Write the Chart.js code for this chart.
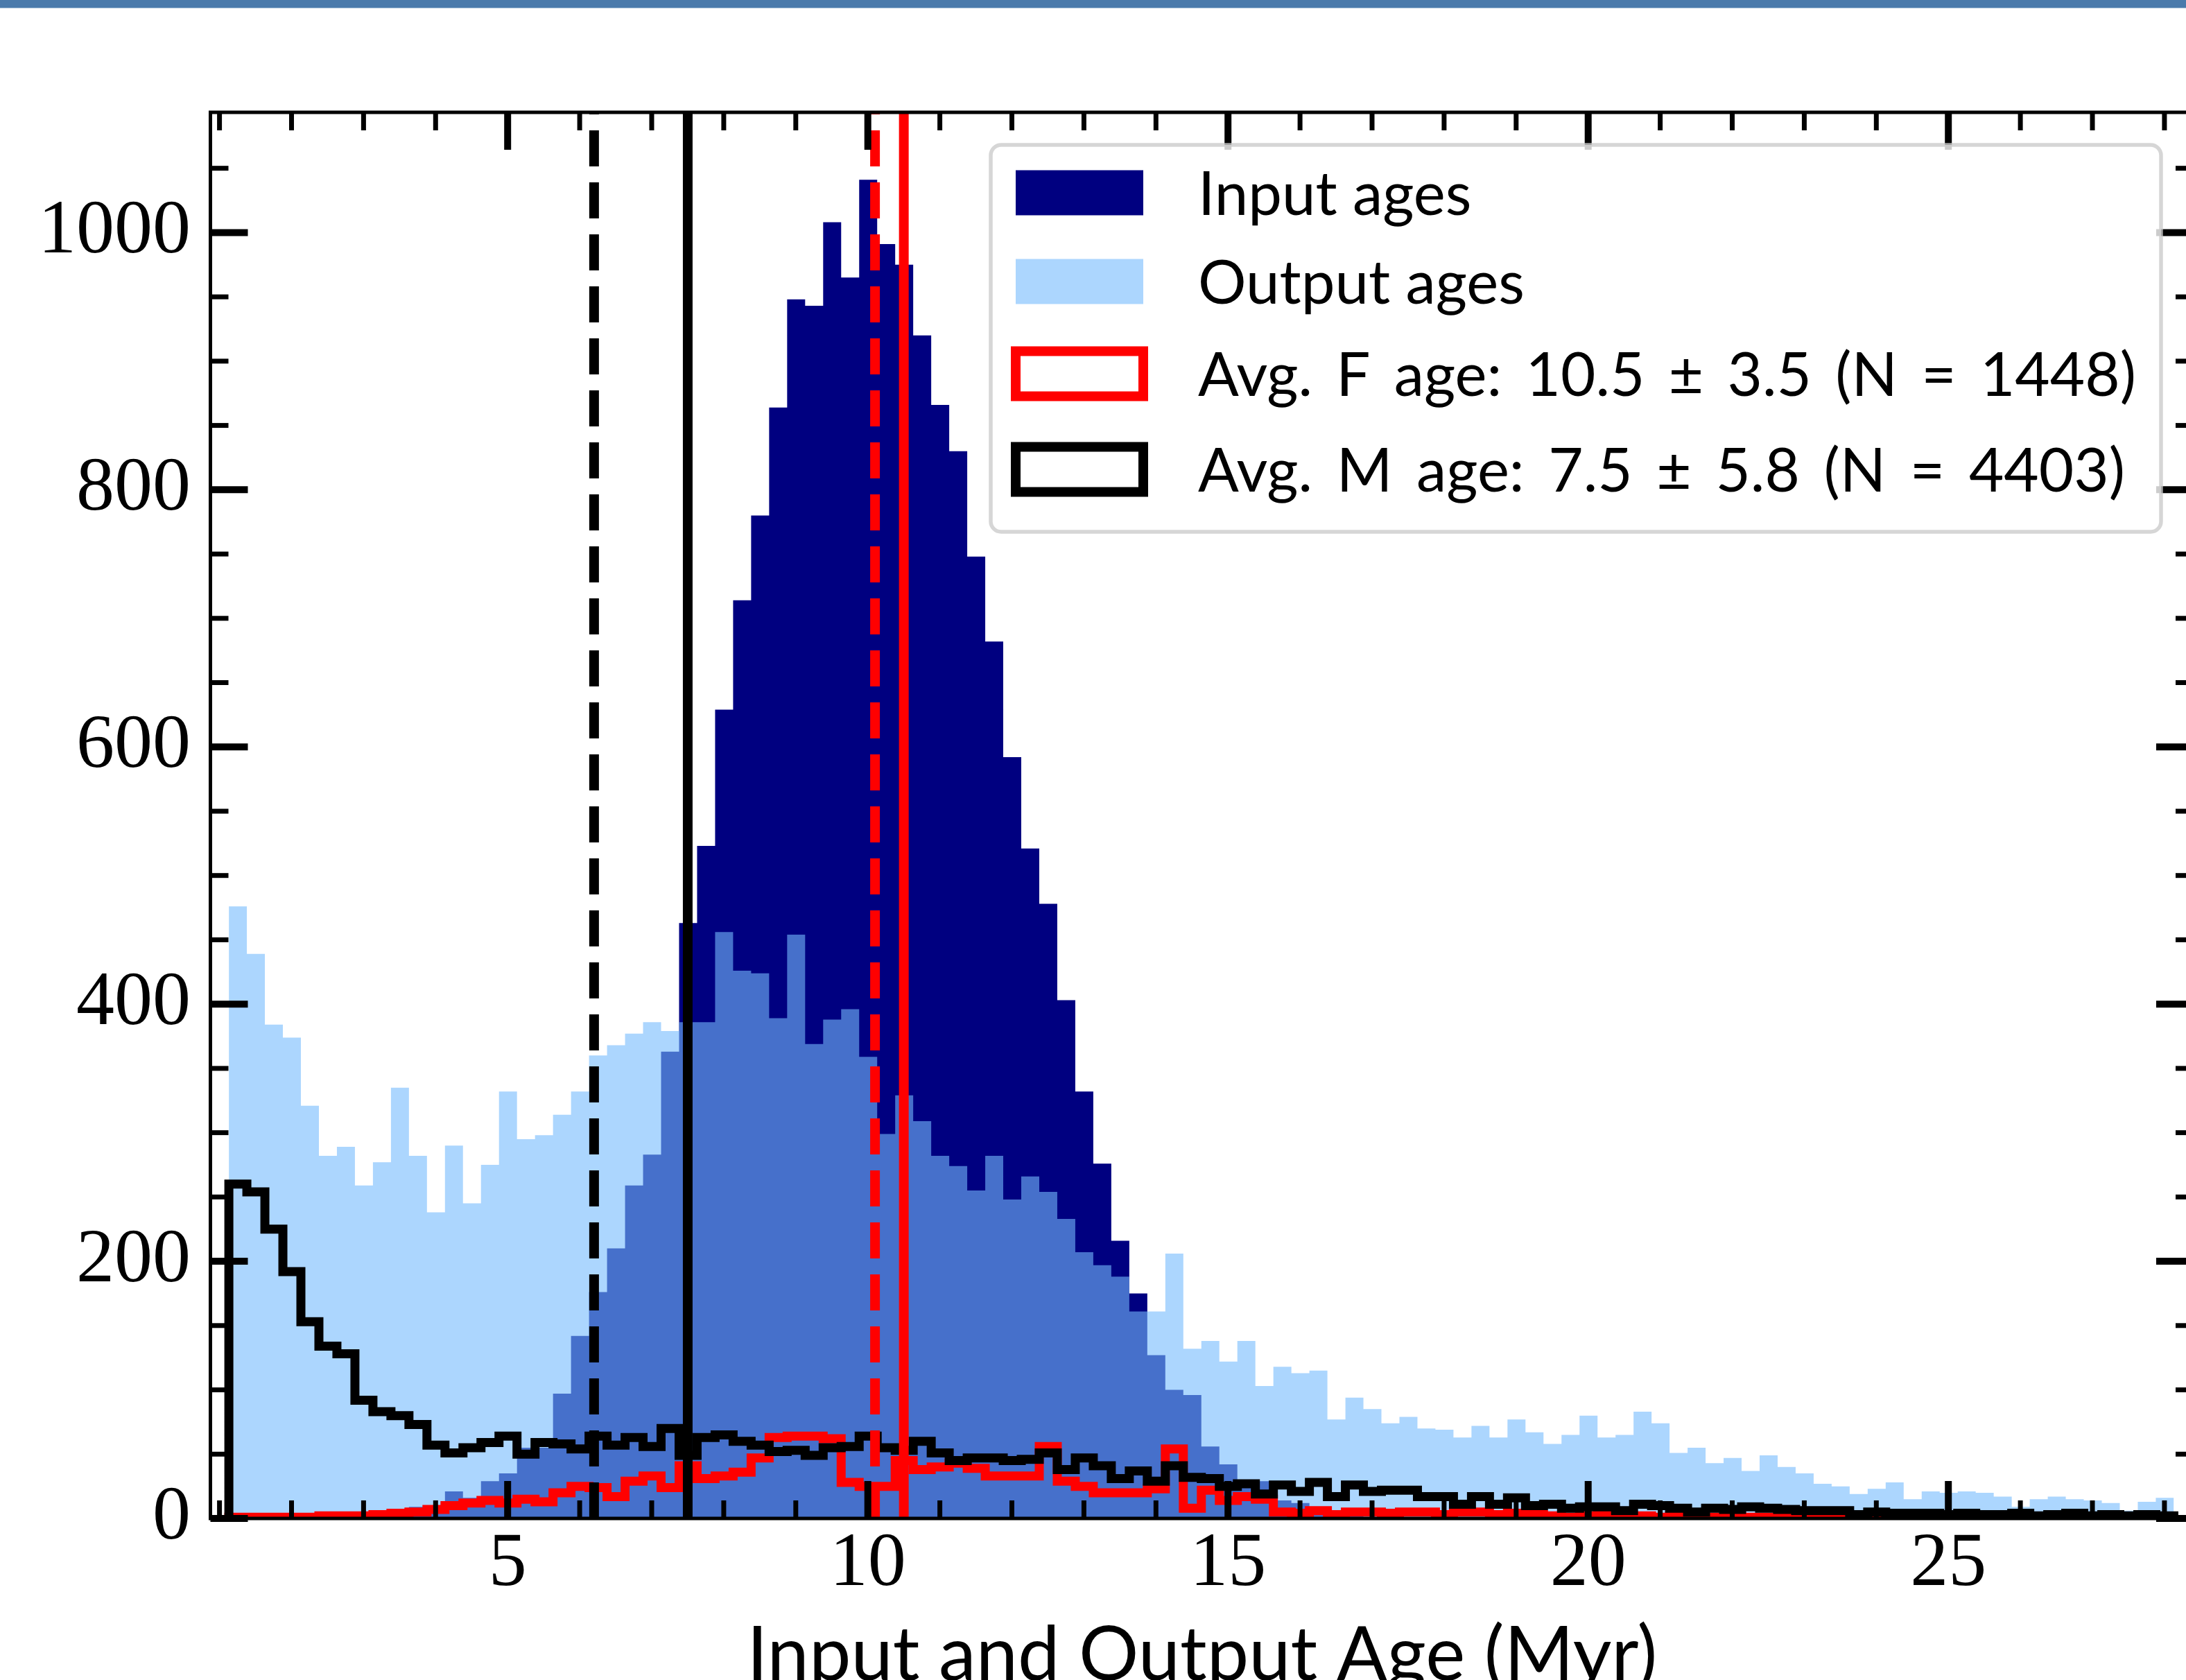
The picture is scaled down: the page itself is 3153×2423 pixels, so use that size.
<!DOCTYPE html>
<html>
<head>
<meta charset="utf-8">
<script src="https://cdn.jsdelivr.net/npm/chart.js@4.4.1/dist/chart.umd.min.js"></script>
<style>
  html, body { margin: 0; padding: 0; background: #fff; overflow: hidden; width: 3153px; height: 2423px; }
  #banner { position: absolute; left: 0; top: 0; width: 100%; height: 11px; background: #4a7aab; border-bottom: 1px solid #9db8d4; z-index: 2; }
  #wrap { position: absolute; left: 0; top: 0; width: 3200px; height: 2500px; }
</style>
</head>
<body>
<div id="banner"></div>
<div id="wrap"><canvas id="c" width="3200" height="2500"></canvas></div>
<script>
// ---------------- data ----------------
const binStart = 1.13;   // first bin edge (Myr)
const binWidth = 0.25;   // bin width (Myr)

const inputAges = [
  0,0,0,0,0,0,1,2,4,7,
  9,10,21,16,29,35,55,55,97,142,
  176,210,259,283,363,463,523,629,714,780,
  864,948,943,1008,965,1041,991,975,920,866,
  830,748,682,592,521,478,403,332,276,216,
  175,127,100,96,56,42,30,29,14,12,
  8,3,2,1,0,0,0,0,0,0,
  0,0,0,0,0,0,0,0,0,0,
  0,0,0,0,0,0,0,0,0,0,
  0,0,0,0,0,0,0,0,0,0,
  0,0,0,0,0,0,0,0
];
const outputAges = [
  476,439,384,374,321,282,289,259,277,335,
  282,238,290,245,275,332,295,298,314,332,
  360,368,377,386,379,386,386,456,426,424,
  389,454,369,388,396,359,299,329,309,282,
  274,255,282,248,266,254,233,207,197,188,
  161,161,206,132,138,122,138,103,118,113,
  115,77,94,85,74,79,70,69,63,72,
  63,77,67,58,65,80,63,65,83,74,
  51,55,43,47,37,49,40,35,27,25,
  19,23,28,15,21,20,21,20,17,9,
  15,17,15,14,12,6,13,16
];
const fAges = [
  1,1,1,1,1,2,2,2,3,4,
  5,7,10,12,14,12,15,13,20,25,
  24,17,29,33,24,41,31,33,36,47,
  63,64,64,62,28,25,25,45,38,40,
  43,39,33,33,33,56,29,25,20,20,
  20,23,54,8,22,14,17,15,5,4,
  6,3,5,5,4,5,5,3,5,5,
  3,4,3,2,1,2,3,1,2,1,
  2,1,1,2,1,1,2,1,1,1,
  1,0,1,0,0,1,0,1,0,0,
  1,0,0,1,0,0,1,0
];
const mAges = [
  260,254,225,192,153,134,128,92,83,80,
  73,57,51,55,59,64,50,59,58,54,
  64,57,63,56,70,49,63,65,60,57,
  52,53,49,55,56,64,55,53,60,51,
  45,47,47,45,46,51,38,47,41,31,
  37,29,41,32,31,25,27,19,26,21,
  28,17,26,21,22,22,17,17,11,17,
  11,16,10,11,8,9,9,6,11,10,
  8,5,8,7,9,8,7,6,6,6,
  3,5,4,4,4,3,4,3,3,4,
  2,3,4,2,3,2,3,2
];

const fMean = 10.5, fMedian = 10.1;
const mMean = 7.5,  mMedian = 6.2;

const xTickLabels = [5, 10, 15, 20, 25];
const xMinorTicks = [1,2,3,4,5,6,7,8,9,10,11,12,13,14,15,16,17,18,19,20,21,22,23,24,25,26,27,28];
const yTickLabels = [0, 200, 400, 600, 800, 1000];
const yMinorTicks = [0,50,100,150,200,250,300,350,400,450,500,550,600,650,700,750,800,850,900,950,1000,1050];
const xRange = [0.874, 28.405];
const yRange = [0, 1093.5];

const seriesLabels = [
  'Input ages',
  'Output ages',
  'Avg. F age: 10.5 \u00b1 3.5 (N = 1448)',
  'Avg. M age: 7.5 \u00b1 5.8 (N = 4403)'
];
const xTitle = 'Input and Output Age (Myr)';

// ---------------- helpers ----------------
const binEdges = Array.from({length: inputAges.length + 1}, (_, i) => +(binStart + binWidth * i).toFixed(4));
function histPoints(counts) {
  const pts = [{x: binEdges[0], y: 0}];
  counts.forEach((c, i) => pts.push({x: binEdges[i], y: c}));
  const last = counts.length;
  pts.push({x: binEdges[last], y: counts[last - 1]});
  pts.push({x: binEdges[last], y: 0});
  return pts;
}
function vline(v) { return [{x: v, y: yRange[0]}, {x: v, y: yRange[1]}]; }

const NAVY = '#000080';
const SKY = 'rgba(117,187,253,0.6)';
const RED = '#ff0000';
const BLACK = '#000000';
const DASH = [52, 23];

// ---------------- plugins ----------------
const axisDecor = {
  id: 'axisDecor',
  afterDatasetsDraw(chart) {
    const {ctx, chartArea: {left, right, top, bottom}, scales: {x, y}} = chart;
    ctx.save();
    ctx.strokeStyle = '#000';
    ctx.lineCap = 'butt';
    const seg = (x1, y1, x2, y2, w) => { ctx.lineWidth = w; ctx.beginPath(); ctx.moveTo(x1, y1); ctx.lineTo(x2, y2); ctx.stroke(); };
    xMinorTicks.forEach(v => {
      const px = x.getPixelForValue(v);
      const major = xTickLabels.includes(v);
      const L = major ? 54 : 26, W = major ? 10 : 7;
      seg(px, bottom, px, bottom - L, W);
      seg(px, top, px, top + L, W);
    });
    yMinorTicks.forEach(v => {
      const py = y.getPixelForValue(v);
      const major = yTickLabels.includes(v);
      const L = major ? 54 : 26, W = major ? 10 : 7;
      seg(left, py, left + L, py, W);
      seg(right, py, right - L, py, W);
    });
    ctx.lineWidth = 5;
    ctx.strokeRect(left, top, right - left, bottom - top);
    ctx.restore();
  }
};

const legendTextWidths = [382, 459, 1353, 1337];

const legendBox = {
  id: 'legendBox',
  afterDraw(chart) {
    const {ctx, chartArea: {right, top}} = chart;
    const ds = chart.data.datasets;
    const bx0 = right - 1735, by0 = top + 47, bx1 = right - 47, by1 = top + 605, r = 15;
    ctx.save();
    ctx.beginPath();
    ctx.moveTo(bx0 + r, by0);
    ctx.arcTo(bx1, by0, bx1, by1, r);
    ctx.arcTo(bx1, by1, bx0, by1, r);
    ctx.arcTo(bx0, by1, bx0, by0, r);
    ctx.arcTo(bx0, by0, bx1, by0, r);
    ctx.closePath();
    ctx.fillStyle = 'rgba(255,255,255,0.8)';
    ctx.fill();
    ctx.lineWidth = 5.5;
    ctx.strokeStyle = 'rgba(204,204,204,0.8)';
    ctx.stroke();

    const rowY = [top + 116, top + 244, top + 377, top + 515];
    const px0 = bx0 + 36, pw = 184, ph = 65;
    const tx = bx0 + 299;
    ctx.font = '87px Lato';
    ctx.textBaseline = 'alphabetic';
    ctx.textAlign = 'left';
    for (let i = 0; i < 4; i++) {
      const cy = rowY[i];
      if (i < 2) {
        ctx.fillStyle = ds[i].backgroundColor;
        ctx.fillRect(px0, cy - ph / 2, pw, ph);
      } else {
        ctx.strokeStyle = ds[i].borderColor;
        ctx.lineWidth = 14;
        ctx.lineJoin = 'miter';
        ctx.strokeRect(px0, cy - ph / 2, pw, ph);
      }
      const label = ds[i].label;
      const spaces = (label.match(/ /g) || []).length;
      if ('wordSpacing' in ctx) ctx.wordSpacing = '0px';
      const w0 = ctx.measureText(label).width;
      if (spaces > 0 && 'wordSpacing' in ctx) {
        const extra = Math.max(0, (legendTextWidths[i] - w0) / spaces);
        ctx.wordSpacing = extra.toFixed(2) + 'px';
      }
      ctx.fillStyle = '#000';
      ctx.fillText(label, tx, cy + 31.5);
    }
    ctx.restore();
  }
};

// ---------------- chart ----------------
function build() {
  const lineBase = {pointRadius: 0, pointHoverRadius: 0, tension: 0, clip: 0};
  new Chart(document.getElementById('c'), {
    type: 'line',
    data: {
      datasets: [
        Object.assign({label: seriesLabels[0], data: histPoints(inputAges), stepped: 'before', fill: 'origin',
          backgroundColor: NAVY, borderColor: NAVY, borderWidth: 0, order: 8}, lineBase),
        Object.assign({label: seriesLabels[1], data: histPoints(outputAges), stepped: 'before', fill: 'origin',
          backgroundColor: SKY, borderColor: SKY, borderWidth: 0, order: 7}, lineBase),
        Object.assign({label: seriesLabels[2], data: histPoints(fAges), stepped: 'before', fill: false,
          borderColor: RED, backgroundColor: 'rgba(0,0,0,0)', borderWidth: 13, borderJoinStyle: 'miter', order: 6}, lineBase),
        Object.assign({label: seriesLabels[3], data: histPoints(mAges), stepped: 'before', fill: false,
          borderColor: BLACK, backgroundColor: 'rgba(0,0,0,0)', borderWidth: 13, borderJoinStyle: 'miter', order: 5}, lineBase),
        Object.assign({label: 'F mean', data: vline(fMean), borderColor: RED, borderWidth: 14, fill: false, order: 4}, lineBase),
        Object.assign({label: 'F median', data: vline(fMedian), borderColor: RED, borderWidth: 14, borderDash: DASH, fill: false, order: 3}, lineBase),
        Object.assign({label: 'M mean', data: vline(mMean), borderColor: BLACK, borderWidth: 14, fill: false, order: 2}, lineBase),
        Object.assign({label: 'M median', data: vline(mMedian), borderColor: BLACK, borderWidth: 14, borderDash: DASH, fill: false, order: 1}, lineBase)
      ]
    },
    options: {
      responsive: false,
      animation: false,
      devicePixelRatio: 1,
      events: [],
      layout: {padding: {left: 0, right: 36, top: 162, bottom: 0}},
      plugins: {legend: {display: false}, tooltip: {enabled: false}},
      scales: {
        x: {
          type: 'linear', min: xRange[0], max: xRange[1],
          grid: {display: false, drawTicks: false},
          border: {display: false},
          ticks: {color: '#000', font: {family: 'Liberation Serif', size: 110, lineHeight: 1}, padding: 12, maxRotation: 0, autoSkip: false,
                  callback: v => String(v)},
          afterBuildTicks: s => { s.ticks = xTickLabels.map(v => ({value: v})); },
          afterFit: s => { s.height = 310; },
          title: {display: true, text: xTitle, color: '#000', font: {family: 'Lato', size: 108, lineHeight: 1.2}, padding: {top: 0, bottom: 47}}
        },
        y: {
          type: 'linear', min: yRange[0], max: yRange[1],
          grid: {display: false, drawTicks: false},
          border: {display: false},
          ticks: {color: '#000', font: {family: 'Liberation Serif', size: 110, lineHeight: 1}, padding: 28.5, autoSkip: false,
                  callback: v => String(v)},
          afterBuildTicks: s => { s.ticks = yTickLabels.map(v => ({value: v})); },
          afterFit: s => { s.width = 303.5; }
        }
      }
    },
    plugins: [axisDecor, legendBox]
  });
}

const fontsReady = (document.fonts && document.fonts.load)
  ? Promise.all([document.fonts.load('87px Lato'), document.fonts.load('110px "Liberation Serif"')]).catch(() => {})
  : Promise.resolve();
fontsReady.then(build);
</script>
</body>
</html>
